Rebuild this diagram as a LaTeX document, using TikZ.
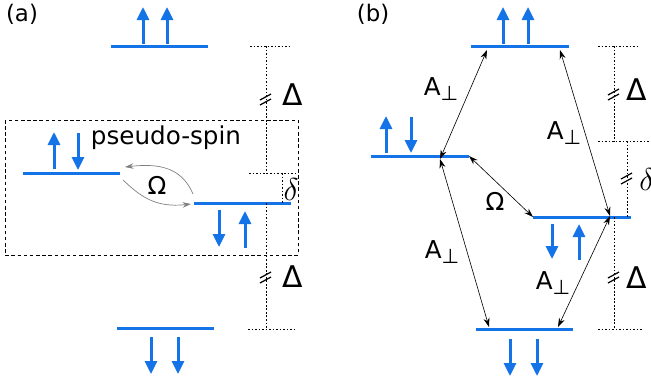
\documentclass[tikz,border=0pt]{standalone}
\usepackage{fix-cm}
\usepackage{fontspec}
\setmainfont{DejaVu Sans}
\usetikzlibrary{arrows.meta}

\definecolor{spinblue}{RGB}{20,115,230}

\begin{document}
\begin{tikzpicture}[
    x=0.2mm, y=-0.2mm,
    level/.style={draw=spinblue, line width=0.6mm},
    spin/.style={draw=spinblue, line width=0.6mm,
                 -{Triangle[length=2.6mm,width=2.4mm]}},
    guide/.style={line width=0.35pt, dash pattern=on 1pt off 1pt},
    coupling/.style={line width=0.35pt,
                     {Stealth[length=1.8mm,width=1.2mm]}-{Stealth[length=1.8mm,width=1.2mm]}},
    hop/.style={draw=gray, line width=0.4pt, -{Stealth[length=1.7mm,width=1.1mm]}},
    lbl/.style={font=\fontsize{14}{17}\selectfont, inner sep=0pt},
    gap/.style={font=\fontsize{17}{20}\selectfont, inner sep=0pt},
    brk/.style={line width=0.7pt}
  ]
    \useasboundingbox (0,0) rectangle (651,384);

    % (a) levels
    \coordinate (aUpL) at (111,46);   \coordinate (aUpR) at (208,46);
    \coordinate (aMidL) at (23,173);  \coordinate (aMidR) at (120,173);
    \coordinate (aLowL) at (194,203); \coordinate (aLowR) at (291,203);
    \coordinate (aDnL) at (117,328);  \coordinate (aDnR) at (214,328);
    \draw[level] (aUpL) -- (aUpR);
    \draw[level] (aMidL) -- (aMidR);
    \draw[level] (aLowL) -- (aLowR);
    \draw[level] (aDnL) -- (aDnR);

    \draw[spin] (143,44) -- (143,7);
    \draw[spin] (167,44) -- (167,7);
    \draw[spin] (54,169) -- (54,132);
    \draw[spin] (78,133) -- (78,170);
    \draw[spin] (219,210) -- (219,247);
    \draw[spin] (245,248) -- (245,211);
    \draw[spin] (151,337) -- (151,374);
    \draw[spin] (178,337) -- (178,374);

    \node[lbl, font=\fontsize{13}{16}\selectfont] (labA) at (22,14) {(a)};
    \draw[dash pattern=on 2pt off 1.5pt, line width=0.4pt] (5,120) rectangle (298,255);
    \node[lbl] (pseudo) at (166,138) {pseudo-spin};
    \node[lbl] (omegaA) at (157,185) {Ω};
    \draw[hop] (193,194) .. controls (182,168) and (160,163) .. (125,167);
    \draw[hop] (123,180) .. controls (140,196) and (155,208) .. (191,204);

    % (a) energy gaps
    \coordinate (aG1) at (250,46);  \coordinate (aG1e) at (292,46);
    \coordinate (aG2) at (249,173); \coordinate (aG2e) at (295,173);
    \coordinate (aG3) at (248,329); \coordinate (aG3e) at (295,329);
    \draw[guide] (aG1) -- (aG1e);
    \draw[guide] (aG2) -- (aG2e);
    \draw[guide] (aG3) -- (aG3e);
    \draw[guide] (266,46) -- (266,173);
    \draw[guide] (266,203) -- (266,329);
    \draw[guide] (282,173) -- (282,203);
    \foreach \yy in {98,276}
      \draw[brk] (260,\yy+2) -- (271,\yy-4) (260,\yy+7) -- (271,\yy+1);
    \node[gap] (gapA1) at (293,95) {Δ};
    \node[gap] (gapA2) at (293,277) {Δ};
    \node[lbl] (detA) at (291,190) {\fontsize{18}{21}\selectfont$\delta$};

    % (b) levels
    \coordinate (bUpL) at (471,46);   \coordinate (bUpR) at (569,46);
    \coordinate (bMidL) at (371,156); \coordinate (bMidR) at (469,156);
    \coordinate (bLowL) at (533,217); \coordinate (bLowR) at (631,217);
    \coordinate (bDnL) at (476,329);  \coordinate (bDnR) at (573,329);
    \draw[level] (bUpL) -- (bUpR);
    \draw[level] (bMidL) -- (bMidR);
    \draw[level] (bLowL) -- (bLowR);
    \draw[level] (bDnL) -- (bDnR);

    \draw[spin] (503,44) -- (503,7);
    \draw[spin] (528,44) -- (528,7);
    \draw[spin] (386,153) -- (386,116);
    \draw[spin] (411,117) -- (411,153);
    \draw[spin] (552,224) -- (552,259);
    \draw[spin] (579,260) -- (579,224);
    \draw[spin] (510,339) -- (510,376);
    \draw[spin] (537,339) -- (537,376);

    \node[lbl, font=\fontsize{13}{16}\selectfont] (labB) at (373,14) {(b)};

    % (b) couplings
    \coordinate (cUpA) at (487,50);  \coordinate (cUpB) at (560,50);
    \coordinate (cMidA) at (440,159); \coordinate (cLowA) at (610,216);
    \coordinate (cDnA) at (489,327);  \coordinate (cDnB) at (558,327);
    \draw[coupling] (cUpA) -- (cMidA);
    \draw[coupling] (cUpB) -- (cLowA);
    \draw[coupling] (cMidA) -- (cDnA);
    \draw[coupling] (cDnB) -- (cLowA);
    \draw[coupling] (bMidR) -- (bLowL);
    \node[lbl] (perp1) at (441,89) {A\raisebox{-0.35ex}{\fontsize{11.5}{13}\selectfont ⊥}};
    \node[lbl] (perp2) at (564,133) {A\raisebox{-0.35ex}{\fontsize{11.5}{13}\selectfont ⊥}};
    \node[lbl] (perp3) at (442,252) {A\raisebox{-0.35ex}{\fontsize{11.5}{13}\selectfont ⊥}};
    \node[lbl] (perp4) at (553,283) {A\raisebox{-0.35ex}{\fontsize{11.5}{13}\selectfont ⊥}};
    \node[lbl] (omegaB) at (495,201) {Ω};

    % (b) energy gaps
    \draw[guide] (598,46) -- (640,46);
    \draw[guide] (598,141) -- (651,141);
    \draw[guide] (598,329) -- (643,329);
    \draw[guide] (614,46) -- (614,141);
    \draw[guide] (614,217) -- (614,329);
    \draw[guide] (627,141) -- (627,217);
    \foreach \xx/\yy in {614/93,627/177,614/276}
      \draw[brk] (\xx-6,\yy+2) -- (\xx+5,\yy-4) (\xx-6,\yy+7) -- (\xx+5,\yy+1);
    \node[gap] (gapB1) at (637,90) {Δ};
    \node[gap] (gapB2) at (637,278) {Δ};
    \node[lbl, anchor=west] (detB) at (639,180) {\fontsize{18}{21}\selectfont$\delta$};
  \end{tikzpicture}
\end{document}
